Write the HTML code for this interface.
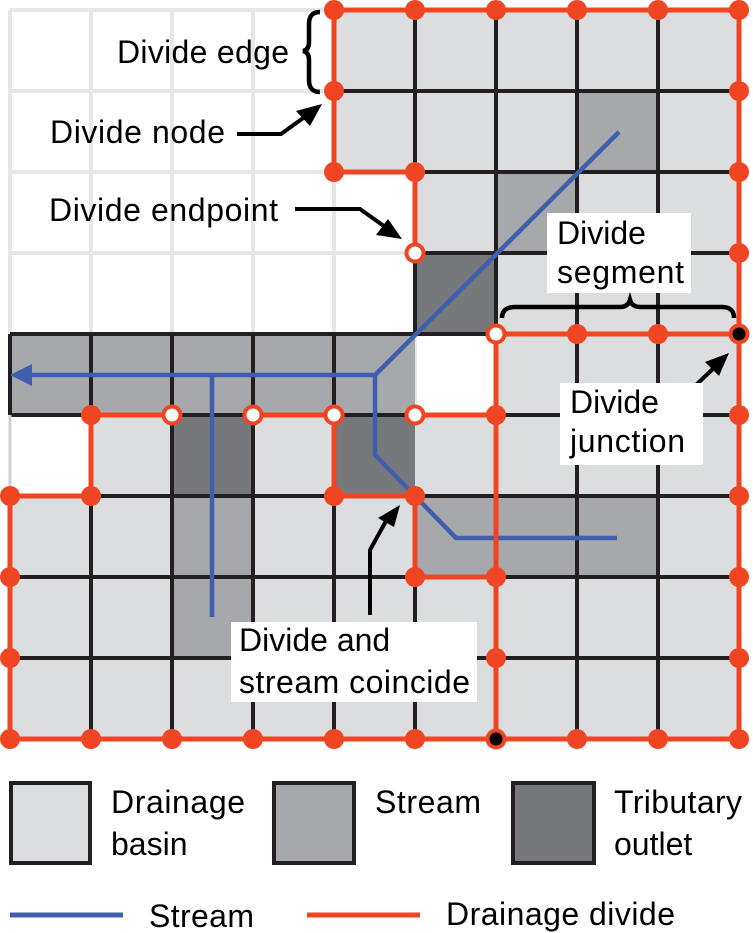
<!DOCTYPE html>
<html><head><meta charset="utf-8"><style>html,body{margin:0;padding:0;background:#fff}svg{display:block}text{font-family:"Liberation Sans",Arial,sans-serif;font-size:32px;fill:#000}</style></head><body>
<svg width="753" height="933" viewBox="0 0 753 933" xmlns="http://www.w3.org/2000/svg">
<g stroke="#e6e7e8" stroke-width="4">
<line x1="10" y1="10" x2="10" y2="415"/><line x1="91" y1="10" x2="91" y2="415"/><line x1="172" y1="10" x2="172" y2="415"/><line x1="253" y1="10" x2="253" y2="415"/><line x1="334" y1="10" x2="334" y2="415"/><line x1="415" y1="172" x2="415" y2="415"/>
<line x1="10" y1="10" x2="334" y2="10"/><line x1="10" y1="91" x2="334" y2="91"/><line x1="10" y1="172" x2="415" y2="172"/><line x1="10" y1="253" x2="415" y2="253"/><line x1="10" y1="334" x2="415" y2="334"/>
</g>
<g>
<rect x="334" y="10" width="405" height="162" fill="#dcdddf"/>
<rect x="415" y="172" width="324" height="162" fill="#dcdddf"/>
<rect x="496" y="334" width="243" height="81" fill="#dcdddf"/>
<rect x="91" y="415" width="648" height="81" fill="#dcdddf"/>
<rect x="10" y="496" width="729" height="243" fill="#dcdddf"/>
<rect x="577" y="91" width="81" height="81" fill="#a7a8ab"/>
<rect x="496" y="172" width="81" height="81" fill="#a7a8ab"/>
<rect x="415" y="253" width="81" height="81" fill="#77787c"/>
<rect x="10" y="334" width="405" height="81" fill="#a7a8ab"/>
<rect x="172" y="415" width="81" height="81" fill="#77787c"/>
<rect x="334" y="415" width="81" height="81" fill="#77787c"/>
<rect x="172" y="496" width="81" height="162" fill="#a7a8ab"/>
<rect x="415" y="496" width="243" height="81" fill="#a7a8ab"/>
</g>
<g stroke="#231f20" stroke-width="4" fill="none">
<line x1="415" y1="10" x2="415" y2="172"/><line x1="496" y1="10" x2="496" y2="739"/><line x1="577" y1="10" x2="577" y2="739"/><line x1="658" y1="10" x2="658" y2="739"/>
<line x1="415" y1="172" x2="415" y2="334"/><line x1="415" y1="496" x2="415" y2="739"/>
<line x1="334" y1="91" x2="739" y2="91"/><line x1="334" y1="172" x2="739" y2="172"/><line x1="415" y1="253" x2="739" y2="253"/><line x1="415" y1="334" x2="739" y2="334"/>
<line x1="10" y1="334" x2="415" y2="334"/><line x1="10" y1="415" x2="739" y2="415"/><line x1="10" y1="334" x2="10" y2="415"/>
<line x1="91" y1="334" x2="91" y2="739"/><line x1="172" y1="334" x2="172" y2="739"/><line x1="253" y1="334" x2="253" y2="739"/><line x1="334" y1="334" x2="334" y2="739"/>
<line x1="10" y1="496" x2="739" y2="496"/><line x1="10" y1="577" x2="739" y2="577"/><line x1="10" y1="658" x2="739" y2="658"/>
</g>
<line x1="10" y1="415" x2="10" y2="496" stroke="#d0d0d0" stroke-width="3"/>
<g stroke="#3f5fae" stroke-width="4.5" fill="none">
<polyline points="619,132 375,375 28,375"/>
<line x1="212" y1="375" x2="212" y2="617"/>
<polyline points="375,375 375,455 456,538 617,538"/>
</g>
<polygon points="10,375 32,364 32,386" fill="#3f5fae"/>
<g stroke="#f04523" stroke-width="5" fill="none">
<polyline points="415,253 415,172 334,172 334,10 739,10 739,739 10,739 10,496 91,496 91,415 172,415"/>
<line x1="253" y1="415" x2="334" y2="415"/>
<polyline points="334,415 334,496 415,496 415,577 496,577"/>
<polyline points="415,415 496,415"/>
<polyline points="496,739 496,334 739,334"/>
</g>
<g fill="#f04523">
<circle cx="334" cy="10" r="10"/><circle cx="415" cy="10" r="10"/><circle cx="496" cy="10" r="10"/><circle cx="577" cy="10" r="10"/><circle cx="658" cy="10" r="10"/><circle cx="739" cy="10" r="10"/>
<circle cx="334" cy="91" r="10"/><circle cx="334" cy="172" r="10"/><circle cx="415" cy="172" r="10"/>
<circle cx="739" cy="91" r="10"/><circle cx="739" cy="172" r="10"/><circle cx="739" cy="253" r="10"/><circle cx="739" cy="415" r="10"/><circle cx="739" cy="496" r="10"/><circle cx="739" cy="577" r="10"/><circle cx="739" cy="658" r="10"/><circle cx="739" cy="739" r="10"/>
<circle cx="577" cy="334" r="10"/><circle cx="658" cy="334" r="10"/>
<circle cx="496" cy="415" r="10"/><circle cx="496" cy="577" r="10"/><circle cx="496" cy="658" r="10"/>
<circle cx="91" cy="415" r="10"/><circle cx="91" cy="496" r="10"/><circle cx="10" cy="496" r="10"/><circle cx="10" cy="577" r="10"/><circle cx="10" cy="658" r="10"/>
<circle cx="334" cy="496" r="10"/><circle cx="415" cy="496" r="10"/><circle cx="415" cy="577" r="10"/>
<circle cx="10" cy="739" r="10"/><circle cx="91" cy="739" r="10"/><circle cx="172" cy="739" r="10"/><circle cx="253" cy="739" r="10"/><circle cx="334" cy="739" r="10"/><circle cx="415" cy="739" r="10"/><circle cx="577" cy="739" r="10"/><circle cx="658" cy="739" r="10"/>
</g>
<g fill="#fff" stroke="#f04523" stroke-width="4">
<circle cx="415" cy="253" r="8.5"/><circle cx="496" cy="334" r="8.5"/><circle cx="172" cy="415" r="8.5"/><circle cx="253" cy="415" r="8.5"/><circle cx="334" cy="415" r="8.5"/><circle cx="415" cy="415" r="8.5"/>
</g>
<g fill="#000" stroke="#f04523" stroke-width="4">
<circle cx="739" cy="334" r="8.5"/><circle cx="496" cy="739" r="8.5"/>
</g>
<text x="117" y="63" textLength="172">Divide edge</text>
<text x="50" y="143" textLength="175">Divide node</text>
<text x="49" y="221" textLength="229">Divide endpoint</text>
<path d="M320,12 Q309,12 309,24 L309,42 Q309,50 303,51 Q309,52 309,60 L309,80 Q309,92 320,92" stroke="#000" stroke-width="4.5" fill="none"/>
<g stroke="#000" stroke-width="4" fill="none">
<polyline points="237,134 281,134 306,116"/>
<polyline points="295,209 360,209 388,229"/>
<polyline points="370,615 370,550 386,521"/>
<line x1="676" y1="404" x2="717" y2="365"/>
</g>
<g fill="#000">
<polygon points="322,104 296,111 310,126"/>
<polygon points="402,239 376,235 388,219"/>
<polygon points="400,505 378,518 394,527"/>
<polygon points="729,353 705,362 719,376"/>
</g>
<rect x="547" y="213" width="144" height="80" fill="#fff"/>
<text x="557" y="244">Divide</text>
<text x="557" y="283" textLength="127">segment</text>
<path d="M502,318 Q502,307 515,307 L620,307 Q628,307 630,300 Q632,307 640,307 L722,307 Q734,307 734,318" stroke="#000" stroke-width="4.5" fill="none"/>
<rect x="560" y="383" width="143" height="82" fill="#fff"/>
<text x="570" y="413">Divide</text>
<text x="570" y="452" textLength="115">junction</text>
<rect x="231" y="622" width="246" height="80" fill="#fff"/>
<text x="239" y="651">Divide and</text>
<text x="239" y="693" textLength="231">stream coincide</text>
<rect x="11" y="783" width="79" height="80" fill="#dcdddf" stroke="#231f20" stroke-width="4"/>
<rect x="274" y="783" width="80" height="80" fill="#a7a8ab" stroke="#231f20" stroke-width="4"/>
<rect x="513" y="783" width="81" height="80" fill="#77787c" stroke="#231f20" stroke-width="4"/>
<text x="111" y="813" textLength="134">Drainage</text>
<text x="111" y="855">basin</text>
<text x="375" y="813" textLength="106">Stream</text>
<text x="614" y="813" textLength="128">Tributary</text>
<text x="614" y="855">outlet</text>
<line x1="10" y1="915" x2="123" y2="915" stroke="#3f5fae" stroke-width="5"/>
<line x1="307" y1="915" x2="420" y2="915" stroke="#f04523" stroke-width="5"/>
<text x="149" y="927" textLength="105">Stream</text>
<text x="446" y="925" textLength="229">Drainage divide</text>
</svg>
</body></html>
